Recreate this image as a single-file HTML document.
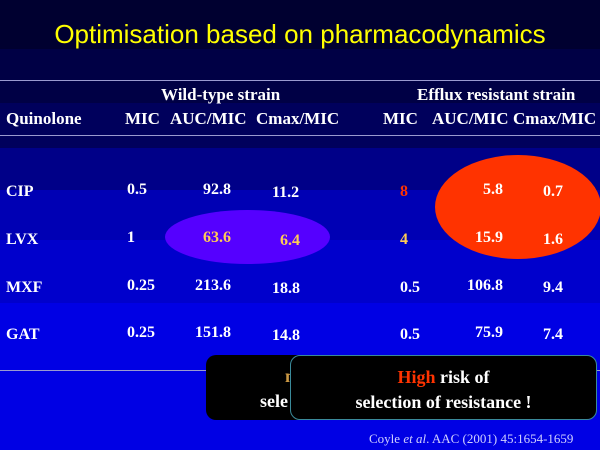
<!DOCTYPE html>
<html><head><style>
body{margin:0}
#s{position:relative;width:600px;height:450px;overflow:hidden;font-family:"Liberation Serif",serif;font-weight:bold;color:#fff;
background:linear-gradient(#000030 0,#000030 49px,#000045 49px,#000045 103px,#00005c 103px,#00005c 148px,#000088 148px,#000088 190px,#0000b4 190px,#0000b4 240px,#0000cc 240px,#0000cc 303px,#0000e4 303px)}
.t{position:absolute;font-size:16px;white-space:nowrap}
.h{position:absolute;font-size:17px;white-space:nowrap}
.r{text-align:right}
.hl{position:absolute;left:0;width:600px;height:1px;background:#9a9ad0}
</style></head><body><div id="s">
<div style="position:absolute;top:19px;width:600px;text-align:center;font-family:'Liberation Sans',sans-serif;font-weight:normal;color:#ffff00;font-size:26px">Optimisation based on pharmacodynamics</div>
<div class="hl" style="top:80px"></div>
<div class="hl" style="top:135px"></div>
<div class="hl" style="top:370px"></div>
<div class="h" style="left:161px;top:85px">Wild-type strain</div>
<div class="h" style="left:417px;top:85px">Efflux resistant strain</div>
<div class="h" style="left:6px;top:109px">Quinolone</div>
<div class="h" style="left:125px;top:109px">MIC</div>
<div class="h" style="left:170px;top:109px">AUC/MIC</div>
<div class="h" style="left:256px;top:109px">Cmax/MIC</div>
<div class="h" style="left:383px;top:109px">MIC</div>
<div class="h" style="left:432px;top:109px">AUC/MIC</div>
<div class="h" style="left:513px;top:109px">Cmax/MIC</div>
<div style="position:absolute;left:165px;top:210px;width:165px;height:54px;border-radius:50%;background:#5500ff"></div>
<div style="position:absolute;left:435px;top:155px;width:166px;height:104px;border-radius:50%;background:#ff3300"></div>
<div class="t" style="left:6px;top:183px">CIP</div><div class="t" style="left:127px;top:181px">0.5</div><div class="t r" style="left:170px;width:61px;top:181px">92.8</div><div class="t" style="left:272px;top:184px">11.2</div><div class="t" style="left:400px;top:183px;color:#ff3300">8</div><div class="t r" style="left:443px;width:60px;top:181px">5.8</div><div class="t" style="left:543px;top:183px">0.7</div>
<div class="t" style="left:6px;top:231px">LVX</div><div class="t" style="left:127px;top:229px">1</div><div class="t r" style="left:170px;width:61px;top:229px;color:#ffcc55">63.6</div><div class="t" style="left:280px;top:232px;color:#ffcc55">6.4</div><div class="t" style="left:400px;top:231px;color:#ffcc55">4</div><div class="t r" style="left:443px;width:60px;top:229px">15.9</div><div class="t" style="left:543px;top:231px">1.6</div>
<div class="t" style="left:6px;top:279px">MXF</div><div class="t" style="left:127px;top:277px">0.25</div><div class="t r" style="left:170px;width:61px;top:277px">213.6</div><div class="t" style="left:272px;top:280px">18.8</div><div class="t" style="left:400px;top:279px">0.5</div><div class="t r" style="left:443px;width:60px;top:277px">106.8</div><div class="t" style="left:543px;top:279px">9.4</div>
<div class="t" style="left:6px;top:326px">GAT</div><div class="t" style="left:127px;top:324px">0.25</div><div class="t r" style="left:170px;width:61px;top:324px">151.8</div><div class="t" style="left:272px;top:327px">14.8</div><div class="t" style="left:400px;top:326px">0.5</div><div class="t r" style="left:443px;width:60px;top:324px">75.9</div><div class="t" style="left:543px;top:326px">7.4</div>
<div style="position:absolute;left:206px;top:355px;width:200px;height:65px;background:#000;border-radius:10px"></div>
<div class="t" style="left:285px;top:366px;font-size:18px;color:#cc9944">n</div>
<div class="t" style="left:260px;top:391px;font-size:18px">sele</div>
<div style="position:absolute;left:290px;top:355px;width:307px;height:65px;background:#000;border:1px solid #3a8a9a;border-radius:10px;box-sizing:border-box;text-align:center;font-size:18px;line-height:25px;padding-top:9px">
<span style="color:#ff3300">High</span> risk of<br>selection of resistance !</div>
<div style="position:absolute;left:369px;top:431px;font-weight:normal;font-size:13px;color:#d0d0ff">Coyle <i>et al</i>. AAC (2001) 45:1654-1659</div>
</div></body></html>
